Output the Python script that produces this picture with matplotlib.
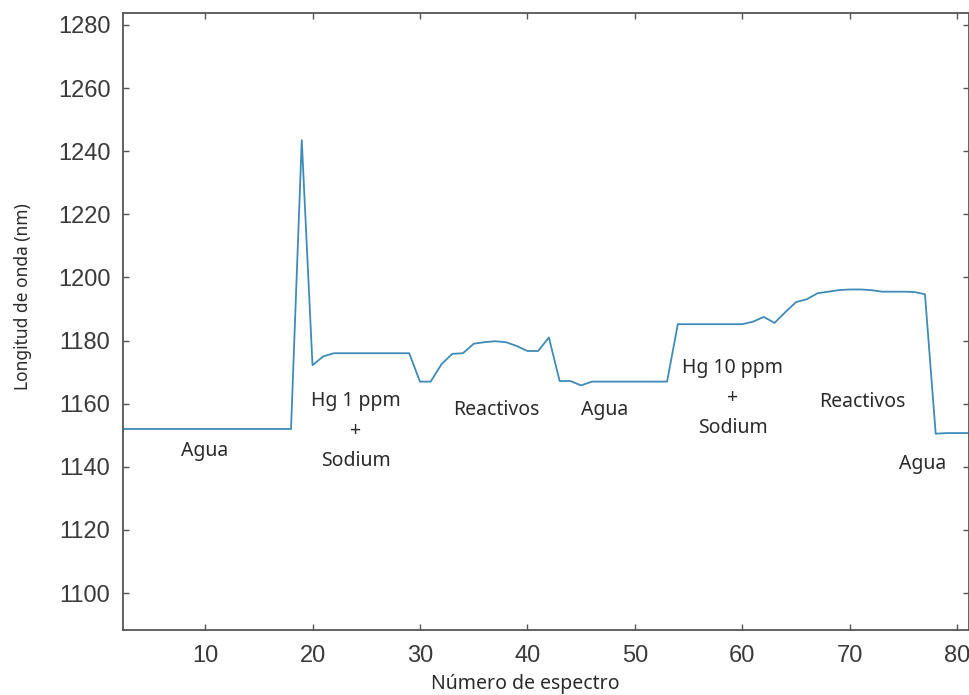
"""Espectro: longitud de onda de resonancia frente al numero de espectro."""

import matplotlib
matplotlib.use("Agg")
import matplotlib.pyplot as plt

# numero de espectro y longitud de onda leida (nm)
spectrum_number = list(range(2, 82))
wavelength_nm = (
    [1152.0] * 17                                     # 2..18
    + [1243.5, 1172.2, 1175.0]                        # 19..21
    + [1176.0] * 8                                    # 22..29
    + [1167.0, 1167.0, 1172.5, 1175.8, 1176.0,        # 30..34
       1179.0, 1179.5, 1179.8, 1179.5, 1178.3,        # 35..39
       1176.7, 1176.7, 1181.0, 1167.2, 1167.2,        # 40..44
       1165.8]                                        # 45
    + [1167.0] * 8                                    # 46..53
    + [1185.2] * 7                                    # 54..60
    + [1186.0, 1187.5, 1185.6, 1189.0, 1192.2,        # 61..65
       1193.1, 1195.0, 1195.5, 1196.0, 1196.2,        # 66..70
       1196.2, 1196.0, 1195.5, 1195.5, 1195.5,        # 71..75
       1195.4, 1194.7, 1150.5]                        # 76..78
    + [1150.7] * 3                                    # 79..81
)

x_ticks = [10, 20, 30, 40, 50, 60, 70, 80]
y_ticks = [1100, 1120, 1140, 1160, 1180, 1200, 1220, 1240, 1260, 1280]

# etiquetas de cada etapa del ensayo
stage_labels = ["Agua", "Hg 1 ppm\n+\nSodium", "Reactivos", "Agua",
                "Hg 10 ppm\n+\nSodium", "Reactivos", "Agua"]
stage_x = [10.0, 24.0, 37.1, 47.2, 59.1, 71.2, 76.8]
stage_y = [1145.0, 1151.3, 1158.0, 1158.0, 1161.8, 1160.7, 1141.0]

LINE_COLOR = "#3f8bb8"
FRAME_COLOR = "#555555"
TEXT_COLOR = "#3a3a3a"
LABEL_FONT = ["Noto Sans", "DejaVu Sans"]
TICK_FONT = ["Liberation Sans", "DejaVu Sans"]


def main() -> None:
    fig = plt.figure(figsize=(9.69, 6.95), dpi=100)
    ax = fig.add_axes([0.1269, 0.0935, 0.8731, 0.8878])

    ax.plot(spectrum_number, wavelength_nm, color=LINE_COLOR, linewidth=1.3)

    for label, x, y in zip(stage_labels, stage_x, stage_y):
        ax.text(x, y, label, ha="center", va="center", fontsize=14,
                family=LABEL_FONT, color="#2a2a2a", linespacing=1.65)

    ax.set_xlim(2.36, 81.1)
    ax.set_ylim(1088.3, 1283.8)
    ax.set_xticks(x_ticks)
    ax.set_yticks(y_ticks)

    ax.tick_params(direction="in", length=4, width=1.0, color=FRAME_COLOR,
                   top=True, right=True, labelsize=17, labelcolor=TEXT_COLOR)
    ax.tick_params(axis="x", pad=11)
    ax.tick_params(axis="y", pad=9)
    for tick in ax.get_xticklabels() + ax.get_yticklabels():
        tick.set_family(TICK_FONT)

    for spine in ax.spines.values():
        spine.set_color(FRAME_COLOR)
        spine.set_linewidth(1.3)

    ax.set_xlabel("Número de espectro", fontsize=14, family=LABEL_FONT,
                  color="#2a2a2a")
    ax.xaxis.set_label_coords(0.476, -0.072)
    ax.set_ylabel("Longitud de onda (nm)", fontsize=12.5, family=LABEL_FONT,
                  color="#2a2a2a")
    ax.yaxis.set_label_coords(-0.1076, 0.541)

    fig.savefig("out.png", dpi=100)
    plt.close(fig)


if __name__ == "__main__":
    main()
